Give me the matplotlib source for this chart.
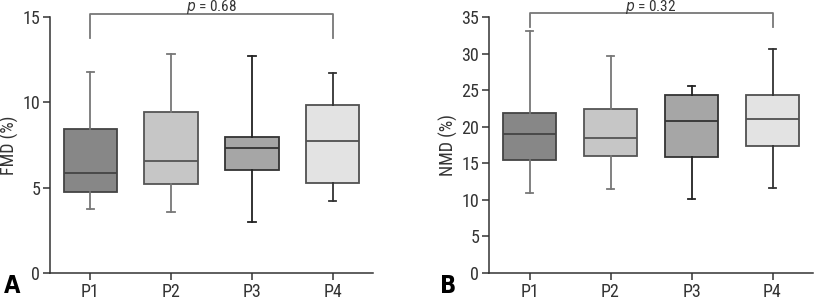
import matplotlib
matplotlib.use('Agg')
import matplotlib.pyplot as plt
from matplotlib import font_manager

# Ищем узкий шрифт, если он установлен
narrow = None
for f in font_manager.fontManager.ttflist:
    if f.name in ('Liberation Sans Narrow', 'DejaVu Sans Condensed', 'Roboto Condensed'):
        narrow = f.name
        break
    if f.name == 'DejaVu Sans' and f.stretch in ('condensed', 'semi-condensed', 600, 500):
        narrow = 'DejaVu Sans'
        plt.rcParams['font.stretch'] = 'condensed'
if narrow:
    plt.rcParams['font.family'] = [narrow, 'DejaVu Sans']
else:
    plt.rcParams['font.family'] = ['Roboto', 'DejaVu Sans']

# Данные: группы и пятиточечные сводки (нижний ус, Q1, медиана, Q3, верхний ус)
groups = ['P1', 'P2', 'P3', 'P4']

fmd_low = [3.76, 3.57, 3.0, 4.23]
fmd_q1 = [4.74, 5.23, 6.05, 5.27]
fmd_med = [5.85, 6.55, 7.31, 7.76]
fmd_q3 = [8.43, 9.42, 7.98, 9.85]
fmd_high = [11.8, 12.83, 12.74, 11.72]

nmd_low = [10.9, 11.49, 10.12, 11.58]
nmd_q1 = [15.4, 16.0, 15.86, 17.32]
nmd_med = [19.0, 18.41, 20.78, 21.06]
nmd_q3 = [21.88, 22.47, 24.34, 24.38]
nmd_high = [33.04, 29.6, 25.52, 30.63]

fills = ['#878787', '#c6c6c6', '#a6a6a6', '#e3e3e3']
edges = ['#444444', '#555555', '#333333', '#505050']
whisk = ['#777777', '#777777', '#222222', '#333333']

fig = plt.figure(figsize=(8.16, 3.0), dpi=100)
ax_a = fig.add_axes([50 / 816, 27 / 300, 323 / 816, 256 / 300])
ax_b = fig.add_axes([489 / 816, 27 / 300, 324 / 816, 256 / 300])


def draw_panel(ax, low, q1, med, q3, high, ymax, yticks, ylabel, ptext, br_top, br_leg, txt_y):
    stats = []
    for i, g in enumerate(groups):
        stats.append({'label': g, 'whislo': low[i], 'q1': q1[i], 'med': med[i],
                      'q3': q3[i], 'whishi': high[i], 'fliers': []})
    bp = ax.bxp(stats, positions=[1, 2, 3, 4], widths=0.66, capwidths=0.09,
                patch_artist=True, showfliers=False)
    for i, box in enumerate(bp['boxes']):
        box.set_facecolor(fills[i])
        box.set_edgecolor(edges[i])
        box.set_linewidth(1.3)
        bp['medians'][i].set_color(edges[i])
        bp['medians'][i].set_linewidth(1.3)
        for w in bp['whiskers'][2 * i:2 * i + 2] + bp['caps'][2 * i:2 * i + 2]:
            w.set_color(whisk[i])
            w.set_linewidth(1.3)

    ax.set_xlim(0.5, 4.5)
    ax.set_ylim(0, ymax)
    ax.set_yticks(yticks)
    ax.set_xticks([1, 2, 3, 4])
    ax.set_xticklabels(groups)
    ax.spines['top'].set_visible(False)
    ax.spines['right'].set_visible(False)
    for s in ['left', 'bottom']:
        ax.spines[s].set_color('#333333')
        ax.spines[s].set_linewidth(1.1)
    ax.tick_params(axis='both', colors='#333333', labelsize=13, length=5, width=1.1, pad=2)
    ax.tick_params(axis='x', pad=2)
    ax.set_ylabel(ylabel, fontsize=13, color='#333333')
    ax.yaxis.set_label_coords(-0.095, 0.5)

    # скобка сравнения P1–P4
    ax.plot([1, 1, 4, 4], [br_leg, br_top, br_top, br_leg], color='#777777',
            lw=1.3, clip_on=False)
    ax.text(2.5, txt_y, ptext, ha='center', va='baseline', fontsize=11,
            color='#333333', clip_on=False)


draw_panel(ax_a, fmd_low, fmd_q1, fmd_med, fmd_q3, fmd_high, 15, [0, 5, 10, 15],
           'FMD (%)', '$\\it{p}$ = 0.68', 15.19, 13.75, 15.35)
draw_panel(ax_b, nmd_low, nmd_q1, nmd_med, nmd_q3, nmd_high, 35, [0, 5, 10, 15, 20, 25, 30, 35],
           'NMD (%)', '$\\it{p}$ = 0.32', 35.5, 33.7, 35.82)

fig.text(4 / 816, 1 - 293 / 300, 'A', fontsize=17, fontweight='bold', family='DejaVu Sans')
fig.text(440 / 816, 1 - 293 / 300, 'B', fontsize=17, fontweight='bold', family='DejaVu Sans')

fig.savefig('out.png', dpi=100)
